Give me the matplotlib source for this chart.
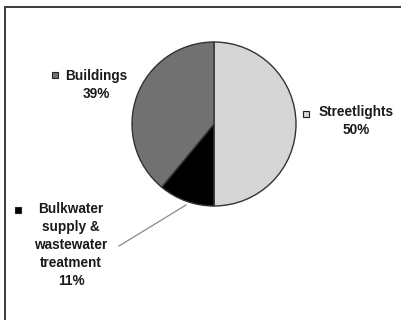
import matplotlib.pyplot as plt
from matplotlib.patches import Rectangle

# energy use shares
labels = ['Streetlights', 'Bulkwater\nsupply &\nwastewater\ntreatment', 'Buildings']
shares = [50, 11, 39]
colors = ['#d6d6d6', '#000000', '#717171']

W, H = 401, 320
fig = plt.figure(figsize=(W / 100, H / 100), dpi=100)
ax = fig.add_axes([0, 0, 1, 1])

# outer frame (runs off the right and bottom edges)
ax.add_patch(Rectangle((5, -20), 420, H - 7 + 20, fill=False,
                       edgecolor='#3a3a3a', linewidth=1.4))

cx, cy, r = 214, H - 124, 82
ax.pie(shares, colors=colors, startangle=90, counterclock=False,
       center=(cx, cy), radius=r, frame=True,
       wedgeprops=dict(edgecolor='#333333', linewidth=1.0))
ax.set_xlim(0, W)
ax.set_ylim(0, H)
ax.set_aspect('auto')
ax.axis('off')

font = dict(family='Liberation Sans', weight='bold', fontsize=9.8,
            color='#1a1a1a', ha='center', va='center', linespacing=1.38)

# label positions: (text centre x, text centre y, key x, key y)
pos = [(356, H - 121, 306, H - 114),
       (71, H - 245, 18, H - 210),
       (96, H - 85, 55, H - 75)]

for lab, s, c, (tx, ty, kx, ky) in zip(labels, shares, colors, pos):
    ax.text(tx, ty, '%s\n%d%%' % (lab, s), **font)
    ax.plot(kx, ky, marker='s', markersize=5, markerfacecolor=c,
            markeredgecolor='#222222', markeredgewidth=0.8)

# leader line for the small slice
ax.plot([119, 186], [H - 246, H - 205], color='#8a8a8a', linewidth=0.9)

fig.savefig('out.png', dpi=100)
